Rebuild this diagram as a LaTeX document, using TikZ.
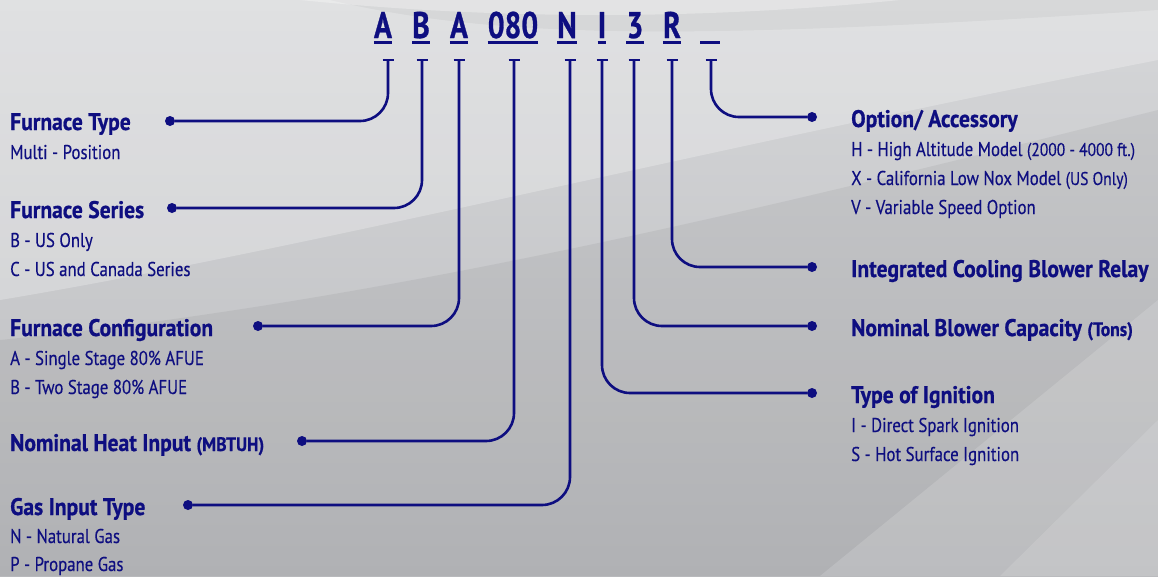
\documentclass[tikz,border=0pt]{standalone}
\usepackage{fontspec}
\setmainfont{PT Sans}[FakeStretch=0.84,FakeBold=0.3,BoldFeatures={FakeStretch=0.9,FakeBold=0.7}]
\newfontfamily\codefont{PT Sans}[FakeStretch=0.8,BoldFeatures={FakeStretch=0.8,FakeBold=0.7}]
\usetikzlibrary{positioning}
\definecolor{navy}{RGB}{14,14,128}
\definecolor{bgtop}{RGB}{214,215,217}
\definecolor{bgbot}{RGB}{186,187,190}

\begin{document}
\begin{tikzpicture}[x=1pt,y=-1pt,
    lead/.style={navy,line width=2.6pt,rounded corners=28pt},
    tcap/.style={navy,line width=2.6pt},
    uline/.style={navy,line width=2.8pt},
    dot/.style={circle,fill=navy,inner sep=0pt,minimum size=10pt},
    head/.style={anchor=base west,inner sep=0pt,text=navy,font=\fontsize{24}{28}\selectfont\bfseries},
    sub/.style={anchor=base west,inner sep=0pt,text=navy,font=\fontsize{20}{24}\selectfont},
    code/.style={anchor=base,inner sep=0pt,text=navy,font=\codefont\fontsize{37}{40}\selectfont\bfseries}]
  % fond
  \useasboundingbox (0,0) rectangle (1158,576);
  \shade[top color=bgtop,bottom color=bgbot] (0,0) rectangle (1158,576);
  \fill[white,opacity=0.25] (0,0) -- (0,300) .. controls (300,250) and (700,150) .. (1158,60) -- (1158,0) -- cycle;
  \fill[black,opacity=0.04] (330,0) .. controls (500,40) and (700,40) .. (1158,10) -- (1158,0) -- cycle;
  \fill[white,opacity=0.3] (300,0) .. controls (500,20) and (700,20) .. (900,0) -- cycle;
  \fill[black,opacity=0.05] (0,340) .. controls (400,300) and (800,200) .. (1158,110) -- (1158,576) -- (0,576) -- cycle;
  \fill[white,opacity=0.15] (820,576) -- (1158,300) -- (1158,576) -- cycle;
  \fill[white,opacity=0.12] (1000,576) -- (1158,420) -- (1158,576) -- cycle;

  % code
  \node[code] (cA) at (383,38) {A};
  \node[code] (cB) at (421,38) {B};
  \node[code] (cC) at (459,38) {A};
  \node[code] (cD) at (513,38) {080};
  \node[code] (cE) at (567,38) {N};
  \node[code] (cF) at (602,38) {I};
  \node[code] (cG) at (635,38) {3};
  \node[code] (cH) at (672,38) {R};
  \node[code,minimum width=20pt] (cJ) at (710,38) {};
  \foreach \n in {cA,cB,cC,cD,cE,cF,cG,cH}
    \draw[uline] ([yshift=-4.5pt]\n.base west) -- ([yshift=-4.5pt]\n.base east);
  \draw[uline] (700,42.5) -- (720,42.5);

  % tiges
  \coordinate (s1) at (388,60);
  \coordinate (s2) at (422,60);
  \coordinate (s3) at (459,60);
  \coordinate (s4) at (514,60);
  \coordinate (s5) at (570,60);
  \coordinate (s6) at (602,60);
  \coordinate (s7) at (634,60);
  \coordinate (s8) at (672,60);
  \coordinate (s9) at (711,60);
  \foreach \s in {s1,s2,s3,s4,s5,s6,s7,s8,s9}
    \draw[tcap] ([xshift=-5.5pt]\s) -- ([xshift=5.5pt]\s);

  % points
  \node[dot] (dType) at (170,121) {};
  \node[dot] (dSer) at (172,208) {};
  \node[dot] (dConf) at (258,326) {};
  \node[dot] (dHeat) at (302,441) {};
  \node[dot] (dGas) at (188,505) {};
  \node[dot] (dOpt) at (812,117) {};
  \node[dot] (dRelay) at (812,267) {};
  \node[dot] (dCap) at (812,326) {};
  \node[dot] (dIgn) at (812,393) {};

  % liaisons
  \draw[lead] (s1) |- (dType);
  \draw[lead] (s2) |- (dSer);
  \draw[lead] (s3) |- (dConf);
  \draw[lead] (s4) |- (dHeat);
  \draw[lead] (s5) |- (dGas);
  \draw[lead] (s6) |- (dIgn);
  \draw[lead] (s7) |- (dCap);
  \draw[lead] (s8) |- (dRelay);
  \draw[lead] (s9) |- (dOpt);

  % textes gauche
  \node[head] (tType) at (10,130) {Furnace Type};
  \node[sub] (tType1) at (10,159) {Multi - Position};
  \node[head] (tSer) at (10,218) {Furnace Series};
  \node[sub] (tSer1) at (10,247) {B - US Only};
  \node[sub] (tSer2) at (10,276) {C - US and Canada Series};
  \node[head] (tConf) at (10,336) {Furnace Configuration};
  \node[sub] (tConf1) at (10,365) {A - Single Stage 80\% AFUE};
  \node[sub] (tConf2) at (10,394) {B - Two Stage 80\% AFUE};
  \node[head] (tHeat) at (10,451) {Nominal Heat Input {\fontsize{19.5}{22}\selectfont(MBTUH)}};
  \node[head] (tGas) at (10,515) {Gas Input Type};
  \node[sub] (tGas1) at (10,543) {N - Natural Gas};
  \node[sub] (tGas2) at (10,571) {P - Propane Gas};

  % textes droite
  \node[head] (tOpt) at (851,127) {Option/ Accessory};
  \node[sub] (tOpt1) at (851,156) {H - High Altitude Model {\fontsize{18.5}{20}\selectfont(2000 - 4000 ft.)}};
  \node[sub] (tOpt2) at (851,185) {X - California Low Nox Model {\fontsize{18.5}{20}\selectfont(US Only)}};
  \node[sub] (tOpt3) at (851,214) {V - Variable Speed Option};
  \node[head] (tRelay) at (851,277) {Integrated Cooling Blower Relay};
  \node[head] (tCap) at (851,336) {Nominal Blower Capacity {\fontsize{19.5}{22}\selectfont(Tons)}};
  \node[head] (tIgn) at (851,403) {Type of Ignition};
  \node[sub] (tIgn1) at (851,432) {I - Direct Spark Ignition};
  \node[sub] (tIgn2) at (851,461) {S - Hot Surface Ignition};
\end{tikzpicture}
\end{document}
